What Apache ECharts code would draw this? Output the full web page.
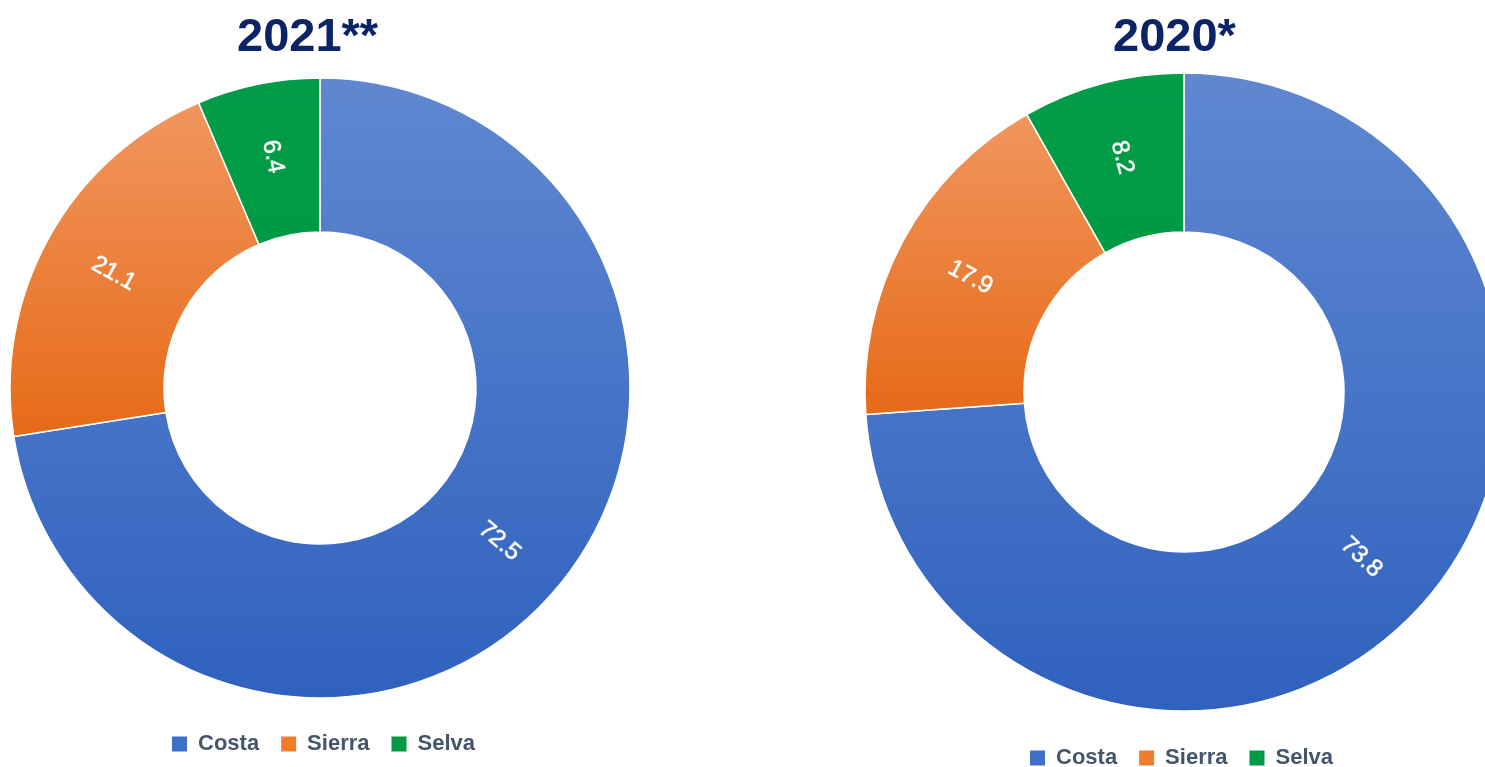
<!DOCTYPE html>
<html lang="es">
<head>
	<meta charset="UTF-8">
	<title>Costa Sierra Selva</title>
	<style type="text/css">
	body,html{
		width: 100%;
		height: 100%;
		margin: 0;
		padding: 0;
		background-color: #ffffff;
	}
	#container{
		width: 1485px;
		height: 767px;
	}
	</style>
</head>
<body>
	<div id="container"></div>
<script type="text/javascript" src="https://cdn.jsdelivr.net/npm/echarts@6/dist/echarts.min.js"></script>
<script type="text/javascript">
	var regiones = ['Costa', 'Sierra', 'Selva'];
	var valores2021 = [72.5, 21.1, 6.4];
	var valores2020 = [73.8, 17.9, 8.2];
	var titulos = ['2021**', '2020*'];

	// colores: arriba claro, abajo oscuro
	var colores = [
		['#6088d1', '#2f61be'],
		['#f1965e', '#e66a18'],
		['#029b47', '#009a44']
	];
	var coloresLeyenda = ['#3f6fc8', '#f07c2c', '#009a44'];

	function grad(i) {
		return new echarts.graphic.LinearGradient(0, 0, 0, 1, [
			{ offset: 0, color: colores[i][0] },
			{ offset: 1, color: colores[i][1] }
		]);
	}

	function getData(valores) {
		return regiones.map(function (nombre, i) {
			return {
				name: nombre,
				value: valores[i],
				itemStyle: { color: grad(i) }
			};
		});
	}

	function serie(valores, centro, radio) {
		return {
			type: 'pie',
			clockwise: true,
			startAngle: 90,
			center: centro,
			radius: radio,
			avoidLabelOverlap: false,
			emphasis: { disabled: true },
			itemStyle: {
				borderColor: '#ffffff',
				borderWidth: 1.5
			},
			label: {
				show: true,
				position: 'inside',
				rotate: 'radial',
				color: '#ffffff',
				fontSize: 24,
				fontFamily: 'Liberation Sans, Arial, sans-serif',
				textBorderColor: 'rgba(255,255,255,0.7)',
				textBorderWidth: 0.8,
				formatter: function (p) { return p.value.toFixed(1); }
			},
			labelLine: { show: false },
			data: getData(valores)
		};
	}

	function leyenda(x, y) {
		return {
			left: x,
			top: y,
			data: regiones.map(function (n, i) {
				return { name: n, itemStyle: { color: coloresLeyenda[i] } };
			}),
			orient: 'horizontal',
			itemWidth: 17,
			itemHeight: 17,
			itemGap: 20,
			icon: 'rect',
			selectedMode: false,
			textStyle: {
				color: '#44546a',
				fontSize: 22,
				fontWeight: 'bold',
				fontFamily: 'Liberation Sans, Arial, sans-serif',
				padding: [0, 0, 0, 5]
			}
		};
	}

	var estiloTitulo = { color: '#0c2465', fontSize: 47, fontWeight: 'bold', fontFamily: 'Liberation Sans, Arial, sans-serif' };

	var option = {
		backgroundColor: '#ffffff',
		animation: false,
		title: [{
			text: titulos[0],
			left: 232,
			top: 10,
			textStyle: estiloTitulo
		}, {
			text: titulos[1],
			left: 1108,
			top: 10,
			textStyle: estiloTitulo
		}],
		legend: [
			leyenda(165, 728),
			leyenda(1023, 742)
		],
		series: [
			serie(valores2021, [320, 388], [156, 310]),
			serie(valores2020, [1184, 392], [160, 319])
		]
	};

	var chart = echarts.init(document.getElementById('container'));
	chart.setOption(option, true);
	window.addEventListener('resize', function () {
		chart.resize();
	});
</script>
</body>
</html>
